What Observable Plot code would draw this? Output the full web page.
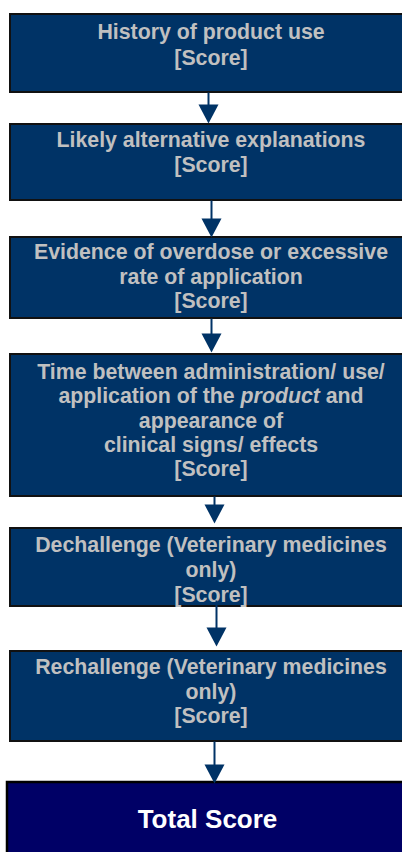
<!DOCTYPE html>
<html>
<head>
<meta charset="utf-8">
<script src="https://cdn.jsdelivr.net/npm/d3@7"></script>
<script src="https://cdn.jsdelivr.net/npm/@observablehq/plot@0.6"></script>
<style>
  html, body { margin: 0; padding: 0; background: #ffffff; }
  #chart svg { display: block; }
</style>
</head>
<body>
<div id="chart"></div>
<script>
// ---- content ----
const steps = [
  "History of product use\n[Score]",
  "Likely alternative explanations\n[Score]",
  "Evidence of overdose or excessive\nrate of application\n[Score]",
  "Time between administration/ use/\napplication of the product and\nappearance of\nclinical signs/ effects\n[Score]",
  "Dechallenge (Veterinary medicines\nonly)\n[Score]",
  "Rechallenge (Veterinary medicines\nonly)\n[Score]"
];
const totalLabel = "Total Score";
const italicLine = "application of the product and";
const italicWord = "product";

// ---- layout of the diagram (pixel units of the picture) ----
const boxTop    = [14, 124, 237, 354, 528, 651];
const boxBottom = [92, 200, 318, 496, 606, 741];
const textTop   = [20.5, 128.5, 241.5, 361.5, 533.5, 656.5];
const lineStep  = [26, 25, 24.5, 24.25, 25, 24.5];
const totalBox  = {top: 782, bottom: 860, left: 7, right: 412};
const arrowX     = [208, 211, 211, 214, 216, 214];
const arrowStart = [92, 200, 318, 496, 600, 741];
const arrowTip   = [123, 237, 352, 523, 646, 783];

const BOX = "#003366", TOTAL = "#000066", TEXT = "#c0c0c0";
const FS = 21.3;

const boxes = steps.map((label, i) => ({label, y1: boxTop[i], y2: boxBottom[i], ty: textTop[i], lh: lineStep[i]}));
const arrows = arrowX.map((x, i) => ({x, y1: arrowStart[i], y2: arrowTip[i] - 18, tip: arrowTip[i]}));

const headSymbol = {
  draw(context) {
    context.moveTo(-10, -19);
    context.lineTo(10, -19);
    context.lineTo(0, 0);
    context.closePath();
  }
};

const chart = Plot.plot({
  width: 402,
  height: 852,
  margin: 0,
  x: {domain: [0, 402], axis: null},
  y: {domain: [0, 852], reverse: true, axis: null},
  style: {fontFamily: "'Liberation Sans', Arial, sans-serif", background: "#ffffff"},
  marks: [
    Plot.rect(boxes, {x1: 10, x2: 412, y1: "y1", y2: "y2", fill: BOX, stroke: "#111111", strokeWidth: 2}),
    Plot.rect([totalBox], {x1: "left", x2: "right", y1: "top", y2: "bottom", fill: TOTAL, stroke: "#000000", strokeWidth: 2.5}),
    ...boxes.map(b => Plot.text([b], {
      x: 210.5, y: "ty", text: "label",
      lineAnchor: "top", lineHeight: b.lh / FS,
      fontSize: FS, fontWeight: "bold", fill: TEXT, textAnchor: "middle"
    })),
    Plot.text([totalLabel], {
      x: 207, y: 819, text: d => d,
      fontSize: 26, fontWeight: "bold", fill: "#ffffff", textAnchor: "middle"
    }),
    Plot.link(arrows, {x1: "x", x2: "x", y1: "y1", y2: "y2", stroke: BOX, strokeWidth: 2}),
    Plot.dot(arrows, {x: "x", y: "tip", symbol: headSymbol, r: 5, fill: BOX, stroke: "none"})
  ]
});

// italicise the word "product" inside its line only
chart.querySelectorAll("tspan").forEach(t => {
  if (t.childElementCount === 0 && t.textContent.trim() === italicLine) {
    const [before, after] = t.textContent.split(italicWord);
    t.textContent = "";
    t.appendChild(document.createTextNode(before));
    const it = document.createElementNS("http://www.w3.org/2000/svg", "tspan");
    it.setAttribute("font-style", "italic");
    it.textContent = italicWord;
    t.appendChild(it);
    t.appendChild(document.createTextNode(after));
  }
});

document.getElementById("chart").appendChild(chart);
</script>
</body>
</html>
